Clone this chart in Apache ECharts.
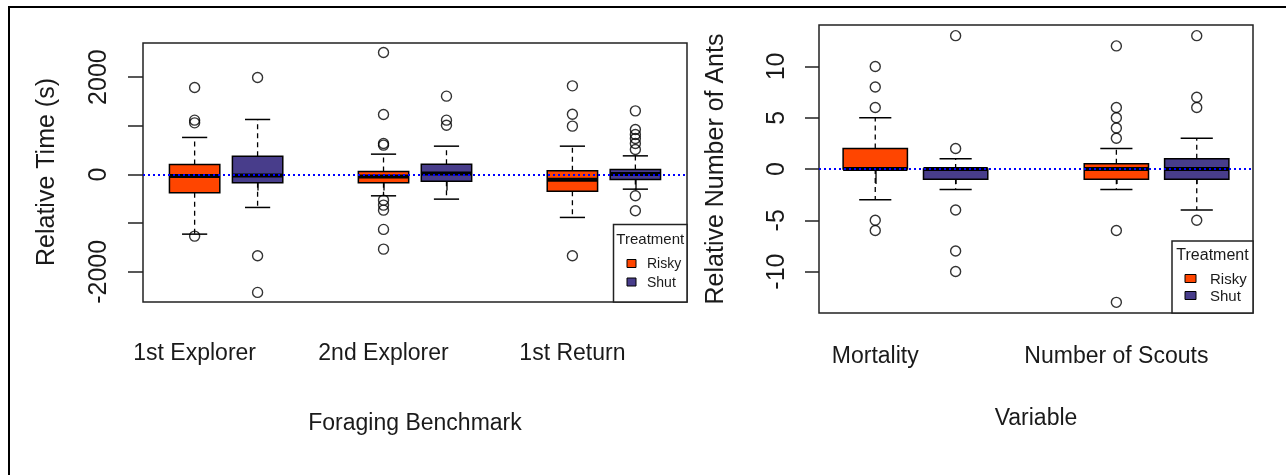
<!DOCTYPE html>
<html>
<head>
<meta charset="utf-8">
<script src="https://cdn.jsdelivr.net/npm/echarts@6/dist/echarts.min.js"></script>
<style>
html,body{margin:0;padding:0;background:#fff;}
#chart{width:1286px;height:475px;}
</style>
</head>
<body>
<div id="chart"></div>
<script>
// ---------- DATA ----------
const benchmarks = ['1st Explorer', '2nd Explorer', '1st Return'];
const benchmarkPositions = [1, 4, 7];
const riskyTimePositions = [1, 4, 7];
const shutTimePositions = [2, 5, 8];
// [lower whisker, Q1, median, Q3, upper whisker]
const riskyTime = [[-1226, -377, -30, 205, 760], [-439, -172, -40, 61, 417], [-883, -343, -110, 75, 581]];
const shutTime = [[-678, -172, -20, 376, 1129], [-507, -138, 20, 211, 581], [-302, -103, 10, 102, 382]];
const riskyTimeOutliers = [[1786, 1115, 1060, -1267], [2505, 1232, 636, 602, -528, -630, -733, -1129, -1534], [1820, 1238, 992, -1671]];
const shutTimeOutliers = [[1991, -1671, -2423], [1608, 1115, 1010], [1306, 924, 821, 739, 636, 513, -439, -747]];
const timeTicks = [-2000, -1000, 0, 1000, 2000];
const timeTickLabels = [-2000, 0, 2000];

const variables = ['Mortality', 'Number of Scouts'];
const variablePositions = [1, 4];
const riskyAntsPositions = [1, 4];
const shutAntsPositions = [2, 5];
const riskyAnts = [[-3, 0, 0, 2, 5], [-2, -1, 0, 0.5, 2]];
const shutAnts = [[-2, -1, 0, 0, 1], [-4, -1, 0, 1, 3]];
const riskyAntsOutliers = [[10, 8, 6, -5, -6], [12, 6, 5, 4, 3, -6, -13]];
const shutAntsOutliers = [[13, 2, -4, -8, -10], [13, 7, 6, -5]];
const antsTicks = [-10, -5, 0, 5, 10];

const treatments = ['Risky', 'Shut'];
// ---------- STYLE ----------
const RISKY = '#FF4500', SHUT = '#483D8B';
const FONT = 'Liberation Sans, Arial, sans-serif';
const TXT = '#1a1a1a';

function boxData(pos, stats) { return stats.map((s, i) => [pos[i]].concat(s)); }
function outData(pos, outs) {
  const d = [];
  outs.forEach((arr, i) => arr.forEach(v => d.push([pos[i], v])));
  return d;
}
function renderBox(params, api) {
  const x = api.value(0);
  const p = (v) => api.coord([x, v]);
  const lo = p(api.value(1)), q1 = p(api.value(2)), med = p(api.value(3)), q3 = p(api.value(4)), hi = p(api.value(5));
  const half = api.size([0.4, 0])[0];
  const st = half / 2;
  const cx = lo[0];
  const color = api.visual('color');
  const ls = { stroke: '#000', lineWidth: 1.3 };
  return {
    type: 'group',
    children: [
      { type: 'line', shape: { x1: cx, y1: q3[1], x2: cx, y2: hi[1] }, style: Object.assign({ lineDash: [5, 4] }, ls) },
      { type: 'line', shape: { x1: cx, y1: q1[1], x2: cx, y2: lo[1] }, style: Object.assign({ lineDash: [5, 4] }, ls) },
      { type: 'line', shape: { x1: cx - st, y1: hi[1], x2: cx + st, y2: hi[1] }, style: { stroke: '#000', lineWidth: 1.5 } },
      { type: 'line', shape: { x1: cx - st, y1: lo[1], x2: cx + st, y2: lo[1] }, style: { stroke: '#000', lineWidth: 1.5 } },
      { type: 'rect', shape: { x: cx - half, y: q3[1], width: 2 * half, height: Math.max(q1[1] - q3[1], 1) }, style: { fill: color, stroke: '#000', lineWidth: 1.5 } },
      { type: 'line', shape: { x1: cx - half, y1: med[1], x2: cx + half, y2: med[1] }, style: { stroke: '#000', lineWidth: 4 } }
    ]
  };
}

function boxSeries(idx, name, color, data) {
  return { type: 'custom', name: name, xAxisIndex: idx, yAxisIndex: idx, renderItem: renderBox,
    itemStyle: { color: color }, encode: { x: 0, y: [1, 2, 3, 4, 5] }, data: data, z: 2 };
}
function outSeries(idx, data, withLine) {
  const s = { type: 'scatter', xAxisIndex: idx, yAxisIndex: idx, symbol: 'circle', symbolSize: 10,
    itemStyle: { color: 'rgba(0,0,0,0)', borderColor: '#000', borderWidth: 1.4 }, data: data, z: 3 };
  if (withLine) {
    s.markLine = { silent: true, symbol: ['none', 'none'], label: { show: false },
      lineStyle: { color: '#0000ff', type: [2, 3], width: 2 }, data: [{ yAxis: 0 }], z: 4 };
  }
  return s;
}

const chart = echarts.init(document.getElementById('chart'), null, { renderer: 'canvas' });

const axisLine = { show: false };
const tickStyle = { color: '#222', width: 1.5 };
const plainNum = (v) => String(v);

function legendGraphics(x, y, w, h, titleFs, itemFs, sqX, sqW, sqH, ys, txtX, titleY) {
  const g = [
    { type: 'rect', shape: { x: x, y: y, width: w, height: h }, style: { fill: '#fff', stroke: '#222', lineWidth: 1.5 }, z: 10 },
    { type: 'text', x: x + w / 2, y: titleY, style: { text: 'Treatment', fontSize: titleFs, fontFamily: FONT, fill: TXT, align: 'center', verticalAlign: 'middle' }, z: 11 }
  ];
  treatments.forEach((t, i) => {
    g.push({ type: 'rect', shape: { x: sqX, y: ys[i] - sqH / 2, width: sqW, height: sqH }, style: { fill: i === 0 ? RISKY : SHUT, stroke: '#000', lineWidth: 1 }, z: 11 });
    g.push({ type: 'text', x: txtX, y: ys[i] + 1, style: { text: t, fontSize: itemFs, fontFamily: FONT, fill: TXT, align: 'left', verticalAlign: 'middle' }, z: 11 });
  });
  return g;
}

const option = {
  animation: false,
  backgroundColor: '#fff',
  grid: [
    { left: 143, top: 43, width: 544, height: 259, show: true, borderColor: '#222', borderWidth: 1.5, backgroundColor: 'transparent' },
    { left: 819, top: 25, width: 434, height: 288, show: true, borderColor: '#222', borderWidth: 1.5, backgroundColor: 'transparent' }
  ],
  xAxis: [
    { type: 'value', gridIndex: 0, min: 0.18, max: 8.82, axisLine: axisLine, splitLine: { show: false },
      axisTick: { show: true, length: 16, customValues: riskyTimePositions.concat(shutTimePositions), lineStyle: tickStyle },
      axisLabel: { customValues: benchmarkPositions, margin: 40, fontSize: 23, fontFamily: FONT, color: TXT,
        formatter: (v) => benchmarks[benchmarkPositions.indexOf(Math.round(v))] } },
    { type: 'value', gridIndex: 1, min: 0.3, max: 5.7, axisLine: axisLine, splitLine: { show: false },
      axisTick: { show: true, length: 15, customValues: riskyAntsPositions.concat(shutAntsPositions), lineStyle: tickStyle },
      axisLabel: { customValues: variablePositions, margin: 32, fontSize: 23, fontFamily: FONT, color: TXT,
        formatter: (v) => variables[variablePositions.indexOf(Math.round(v))] } }
  ],
  yAxis: [
    { type: 'value', gridIndex: 0, min: -2620, max: 2700, axisLine: axisLine, splitLine: { show: false },
      axisTick: { show: true, length: 15, customValues: timeTicks, lineStyle: tickStyle },
      axisLabel: { customValues: timeTickLabels, rotate: 90, margin: 31, fontSize: 25, fontFamily: FONT, color: TXT, formatter: plainNum } },
    { type: 'value', gridIndex: 1, min: -14.04, max: 14.04, axisLine: axisLine, splitLine: { show: false },
      axisTick: { show: true, length: 14, customValues: antsTicks, lineStyle: tickStyle },
      axisLabel: { customValues: antsTicks, rotate: 90, margin: 29, fontSize: 25, fontFamily: FONT, color: TXT, formatter: plainNum } }
  ],
  series: [
    boxSeries(0, 'Risky', RISKY, boxData(riskyTimePositions, riskyTime)),
    boxSeries(0, 'Shut', SHUT, boxData(shutTimePositions, shutTime)),
    outSeries(0, outData(riskyTimePositions, riskyTimeOutliers), false),
    outSeries(0, outData(shutTimePositions, shutTimeOutliers), true),
    boxSeries(1, 'Risky', RISKY, boxData(riskyAntsPositions, riskyAnts)),
    boxSeries(1, 'Shut', SHUT, boxData(shutAntsPositions, shutAnts)),
    outSeries(1, outData(riskyAntsPositions, riskyAntsOutliers), false),
    outSeries(1, outData(shutAntsPositions, shutAntsOutliers), true)
  ],
  graphic: [
    { type: 'polyline', shape: { points: [[9, 475], [9, 7], [1286, 7]] }, style: { stroke: '#000', lineWidth: 2, fill: null } },
    { type: 'text', x: 47, y: 172, rotation: Math.PI / 2, style: { text: 'Relative Time (s)', fontSize: 25, fontFamily: FONT, fill: TXT, align: 'center', verticalAlign: 'middle' } },
    { type: 'text', x: 716, y: 169, rotation: Math.PI / 2, style: { text: 'Relative Number of Ants', fontSize: 25, fontFamily: FONT, fill: TXT, align: 'center', verticalAlign: 'middle' } },
    { type: 'text', x: 415, y: 424, style: { text: 'Foraging Benchmark', fontSize: 23, fontFamily: FONT, fill: TXT, align: 'center', verticalAlign: 'middle' } },
    { type: 'text', x: 1036, y: 419, style: { text: 'Variable', fontSize: 23, fontFamily: FONT, fill: TXT, align: 'center', verticalAlign: 'middle' } }
  ].concat(
    legendGraphics(613.5, 224.5, 73.5, 77.5, 15, 14, 627, 9, 8, [263.5, 282], 647, 240),
    legendGraphics(1172, 241, 81, 72, 16, 15, 1185, 11, 8, [278.5, 295.5], 1210, 256)
  )
};
chart.setOption(option);
</script>
</body>
</html>
